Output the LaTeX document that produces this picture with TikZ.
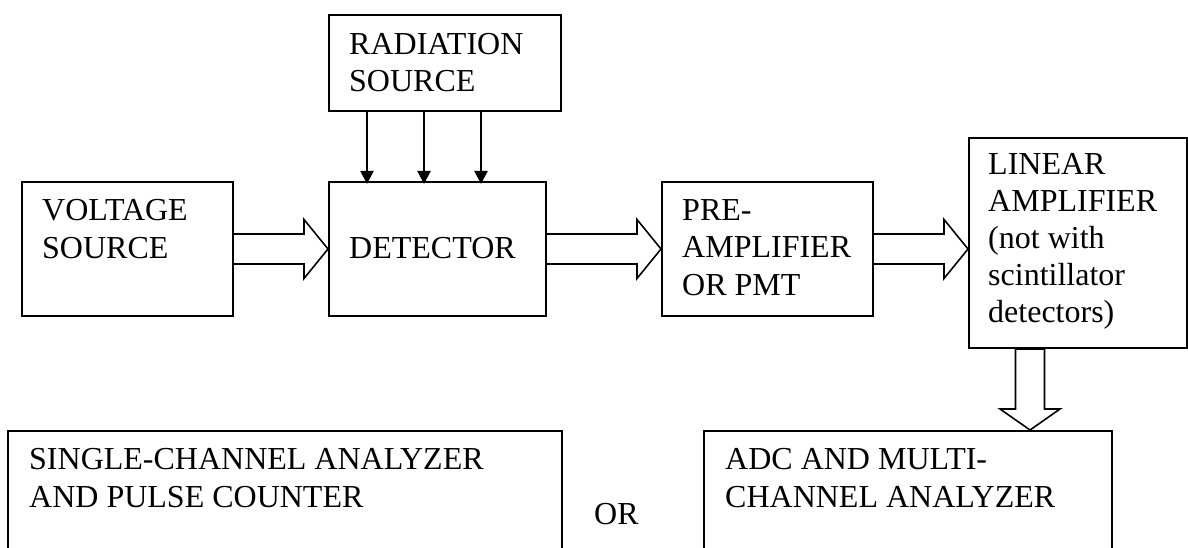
\documentclass[tikz,border=0pt]{standalone}
\usepackage{fontspec}
\setmainfont{Liberation Serif}
\usetikzlibrary{arrows.meta,calc}
\tikzset{
  every node/.style={text=black},
  unit/.style={draw=black, fill=white, line width=2pt, inner sep=0pt,
    anchor=north west},
  caption/.style={font=\fontsize{32}{37.2}\selectfont, align=left,
    inner sep=0pt, anchor=base west},
  ray/.style={-{Triangle[length=13pt,width=13pt]}, draw=black,
    line width=2pt, shorten >=-3pt},
  hollow/.style={draw=black, fill=white, line width=1.6pt,
    line join=miter}
}

\begin{document}
\begin{tikzpicture}[x=1pt,y=-1pt]

% page = reference frame, pixel coordinates from the top left
\fill[white] (0,0) rectangle (1188,548);
\clip (0,0) rectangle (1188,548);

% top row
\node[unit, minimum width=232pt, minimum height=96pt] (rad) at (328,14) {};
\node[unit, minimum width=211pt, minimum height=134pt] (volt) at (21,181) {};
\node[unit, minimum width=217pt, minimum height=134pt] (det) at (328,181) {};
\node[unit, minimum width=211pt, minimum height=134pt] (pre) at (661,181) {};
\node[unit, minimum width=218pt, minimum height=210pt] (lin) at (968,137) {};

% bottom row, cut by the lower edge
\node[unit, minimum width=554pt, minimum height=150pt] (sca) at (7,430) {};
\node[unit, minimum width=408pt, minimum height=150pt] (adc) at (703,430) {};

% texts sit on the baseline of their last line
\node[caption] (rad-t) at (349,92) {RADIATION\\SOURCE};
\node[caption] (volt-t) at (42,258) {VOLTAGE\\SOURCE};
\node[caption] (det-t) at (349,258) {DETECTOR};
\node[caption] (pre-t) at (682,295) {PRE-\\AMPLIFIER\\OR PMT};
\node[caption, font=\fontsize{32}{36.8}\selectfont] (lin-t) at (988,322)
  {LINEAR\\AMPLIFIER\\(not with\\scintillator\\detectors)};
\node[caption] (sca-t) at (29,507) {SINGLE-CHANNEL ANALYZER\\AND PULSE COUNTER};
\node[caption] (adc-t) at (725,507) {ADC AND MULTI-\\CHANNEL ANALYZER};
\node[caption] (or) at (594,524) {OR};

% radiation onto the detector
\foreach \x in {367,424,481}
  \draw[ray] (rad.south -| \x,0) -- (det.north -| \x,0);

% signal chain, outlined block arrows
\coordinate (lin-in) at (lin.west |- pre.east);
\foreach \a/\b in {volt.east/det.west, det.east/pre.west, pre.east/lin-in}
  \draw[hollow] ($(\a)+(0,-15)$) -- ($(\b)+(-24,-15)$)
    -- ($(\b)+(-24,-29.5)$) -- (\b) -- ($(\b)+(-24,29.5)$)
    -- ($(\b)+(-24,15)$) -- ($(\a)+(0,15)$);

\coordinate (lin-out) at (lin.south -| 1030,0);
\coordinate (adc-in) at (adc.north -| lin-out);
\draw[hollow] ($(lin-out)+(-14.5,0)$) -- ($(adc-in)+(-14.5,-21)$)
  -- ($(adc-in)+(-30,-21)$) -- (adc-in) -- ($(adc-in)+(30,-21)$)
  -- ($(adc-in)+(14.5,-21)$) -- ($(lin-out)+(14.5,0)$) -- cycle;

\end{tikzpicture}
\end{document}
